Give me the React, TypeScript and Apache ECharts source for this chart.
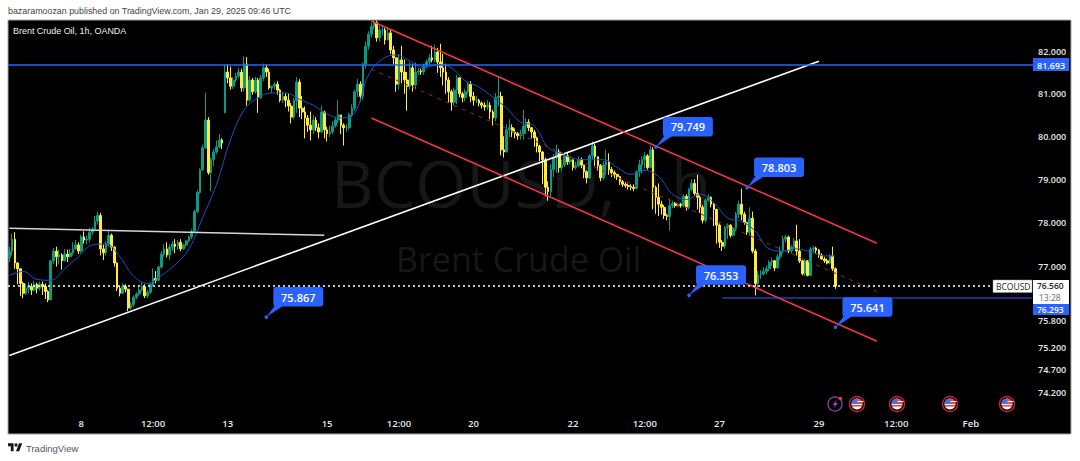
import React, { useEffect, useRef } from "react";
import * as echarts from "echarts";

const firstOpen = 77.2;
// Closing prices, 20 bars per row
const closes = [
  77.35,77.62,77.08,76.95,76.62,76.40,76.51,76.55,76.47,76.60,76.51,76.60,76.55,76.44,76.25,77.13,77.35,77.22,77.26,77.13,
  77.28,77.22,77.31,77.40,77.49,77.35,77.67,77.60,77.62,77.78,77.85,78.03,78.16,77.40,77.31,77.51,77.71,77.44,77.08,76.51,
  76.40,76.55,76.49,76.07,76.14,76.31,76.38,76.47,76.55,76.34,76.42,76.60,76.73,76.69,76.99,77.28,77.40,77.26,77.44,77.51,
  77.46,77.55,77.40,77.49,77.58,77.67,77.80,78.25,78.69,79.22,79.73,80.38,79.15,79.45,79.63,79.75,79.91,79.84,81.52,81.38,
  81.18,81.33,81.42,81.52,81.14,81.71,80.85,81.33,81.05,81.33,80.91,81.38,81.62,81.52,81.14,81.18,81.23,81.09,80.85,80.94,
  80.85,80.71,80.45,80.85,81.28,80.66,80.57,80.43,80.26,80.15,80.38,80.20,80.10,80.57,80.15,80.06,80.10,80.24,80.38,80.50,
  80.26,80.20,80.20,80.50,80.66,81.05,81.23,80.94,81.71,82.14,82.43,82.61,82.71,82.34,82.53,82.53,82.29,82.46,82.05,81.86,
  81.23,81.81,81.52,81.33,81.18,81.62,81.21,81.52,81.54,81.52,81.66,81.76,81.86,81.81,82.00,81.76,81.62,81.52,81.33,81.05,
  80.80,81.09,81.38,81.00,80.91,81.05,81.23,80.94,80.85,80.85,80.78,80.73,80.69,80.73,80.57,80.43,80.91,80.94,79.68,79.63,
  80.15,80.20,80.10,80.06,80.01,80.06,80.24,80.33,80.20,80.10,79.96,79.77,79.63,79.45,78.81,78.71,79.22,79.50,79.63,79.27,
  79.33,79.54,79.40,79.45,79.27,79.31,79.45,79.33,79.17,79.03,79.54,79.77,79.52,79.31,79.03,79.33,79.40,79.22,79.15,79.11,
  79.06,78.94,78.88,78.85,78.83,78.81,78.78,79.17,79.33,79.45,79.54,79.27,79.68,78.81,78.58,78.42,78.35,78.16,78.14,78.39,
  78.44,78.39,78.42,78.39,78.60,78.35,78.76,78.90,78.67,78.58,78.35,78.05,78.51,78.58,78.42,78.30,77.94,77.55,77.46,77.89,
  77.94,77.71,77.87,78.19,78.42,78.19,78.00,77.78,78.10,77.35,76.62,76.82,76.84,76.89,76.95,77.10,77.13,76.97,77.22,77.35,
  77.62,77.67,77.35,77.44,77.58,77.35,77.13,76.84,77.13,76.80,77.40,77.42,77.37,77.26,77.17,77.13,77.08,77.24,76.95,76.56,
];
const highs = [
  77.45,77.75,77.78,77.10,76.95,76.66,76.62,76.66,76.62,76.68,76.64,76.66,76.66,76.62,76.47,77.15,77.42,77.45,77.38,77.30,
  77.40,77.38,77.40,77.55,77.60,77.55,77.72,77.80,77.70,77.88,77.90,78.15,78.25,78.22,77.50,77.58,77.80,77.75,77.46,77.10,
  76.55,76.62,76.60,76.50,76.20,76.35,76.42,76.55,76.66,76.60,76.47,76.64,76.96,76.90,77.02,77.35,77.50,77.55,77.50,77.58,
  77.62,77.60,77.62,77.52,77.60,77.70,77.85,78.30,78.75,79.25,79.80,81.03,80.45,79.50,79.70,79.90,80.05,79.95,81.70,81.70,
  81.65,81.40,81.50,81.62,81.60,81.90,81.88,81.42,81.38,81.40,81.38,81.45,81.72,81.70,81.60,81.20,81.28,81.30,81.12,81.05,
  81.02,81.00,80.78,80.90,81.40,81.35,80.95,80.70,80.50,80.58,80.50,80.45,80.30,80.72,80.60,80.22,80.25,80.35,80.45,80.85,
  80.45,80.30,80.28,80.55,80.75,81.10,81.35,81.30,81.75,82.25,82.50,82.70,82.77,82.76,82.62,82.62,82.58,82.60,82.55,82.15,
  81.75,81.95,82.15,81.82,81.52,81.75,81.72,81.75,81.62,81.60,81.72,81.82,81.95,82.15,82.18,82.10,82.20,81.95,81.72,81.40,
  81.10,81.15,81.45,81.40,81.05,81.12,81.28,81.30,81.05,80.95,80.88,80.82,80.80,80.85,80.80,80.62,81.02,81.40,81.05,80.00,
  80.28,80.40,80.28,80.18,80.10,80.15,80.62,80.42,80.40,80.22,80.15,79.99,79.80,79.65,79.50,78.95,79.35,79.58,79.80,79.70,
  79.45,79.62,79.62,79.50,79.45,79.40,79.52,79.50,79.30,79.20,79.58,79.88,79.82,79.50,79.35,79.42,79.68,79.60,79.28,79.20,
  79.12,79.03,78.98,78.93,78.90,78.88,78.88,79.20,79.45,79.52,79.62,79.58,79.78,79.74,78.85,78.90,78.50,78.40,78.20,78.55,
  78.50,78.47,78.45,78.45,78.65,78.65,78.80,79.00,79.00,79.10,78.62,78.40,78.55,78.65,78.60,78.45,78.32,77.98,77.60,77.92,
  77.98,77.96,77.90,78.24,78.50,78.78,78.25,78.02,78.35,78.25,77.40,76.90,76.92,76.98,77.02,77.14,77.20,77.15,77.28,77.45,
  77.70,77.72,77.70,77.48,77.65,77.95,77.62,77.15,77.18,77.15,77.44,77.47,77.45,77.40,77.30,77.22,77.18,77.28,77.45,76.98,
];
const lows = [
  77.10,77.25,76.95,76.60,76.34,76.29,76.36,76.40,76.36,76.44,76.40,76.46,76.36,76.27,76.20,76.27,77.05,77.00,77.05,76.93,
  77.12,77.10,77.20,77.25,77.38,77.28,77.30,77.52,77.50,77.55,77.72,77.80,77.95,77.25,77.15,77.25,77.45,77.35,77.00,76.45,
  76.33,76.38,76.42,76.00,76.03,76.10,76.27,76.34,76.44,76.29,76.29,76.38,76.55,76.62,76.66,76.95,77.22,77.20,77.15,77.35,
  77.30,77.38,77.35,77.38,77.45,77.55,77.62,77.80,78.22,78.65,79.18,79.70,79.10,78.72,79.30,79.58,79.72,79.70,80.55,81.25,
  81.10,81.12,81.28,81.38,81.05,81.05,80.72,80.82,80.98,81.00,80.55,80.88,81.30,81.40,81.10,81.02,81.10,80.98,80.80,80.78,
  80.68,80.58,80.30,80.40,80.55,80.45,80.40,79.95,80.10,79.90,80.05,80.12,79.95,80.08,79.95,79.88,79.98,80.05,80.20,80.30,
  80.05,79.78,80.10,80.15,80.45,80.60,80.92,80.82,80.85,81.60,82.05,82.35,82.55,82.25,82.25,82.40,82.18,82.28,81.95,81.70,
  81.05,81.10,81.25,81.00,80.60,81.10,81.05,81.10,81.45,81.45,81.45,81.60,81.70,81.75,81.75,81.50,81.40,81.20,81.00,80.80,
  80.60,80.72,80.75,80.92,80.80,80.82,81.00,80.80,80.72,80.78,80.70,80.65,80.60,80.62,80.40,80.25,80.35,80.70,79.55,79.50,
  79.65,79.98,79.98,79.95,79.92,79.92,79.92,80.05,80.12,79.95,79.75,79.62,79.42,78.88,78.60,78.50,78.60,79.05,79.15,79.15,
  79.18,79.28,79.33,79.35,79.20,79.22,79.28,79.25,79.02,78.90,79.00,79.45,79.30,79.20,78.95,78.98,79.10,79.10,79.05,79.02,
  78.98,78.86,78.82,78.80,78.76,78.74,78.72,78.78,79.05,79.13,79.25,79.22,79.25,78.30,78.20,78.15,78.18,78.08,78.05,77.82,
  78.33,78.34,78.36,78.34,78.35,78.27,78.30,78.72,78.62,78.30,78.22,77.98,78.00,78.48,78.35,77.92,77.52,77.42,77.35,77.40,
  77.62,77.66,77.68,77.80,78.10,78.05,77.95,77.72,77.70,77.30,76.35,76.50,76.72,76.80,76.82,76.90,77.02,76.90,76.95,77.15,
  77.30,77.55,77.30,77.30,77.40,77.25,77.08,76.80,76.78,76.78,76.80,77.33,77.30,77.20,77.15,77.08,77.05,77.05,76.90,76.50,
];
// Bars that open away from the previous close (the weekend gap)
const gapOpens: Record<number, number> = { 78: 80.55 };

// Moving average read every fifth bar, with the last bar at the end
const maStep = 5;
const maValues = [
  76.80,76.89,76.71,76.69,76.95,77.22,77.49,77.51,77.22,76.78,76.62,76.80,77.04,77.40,78.12,78.88,79.91,80.62,80.91,81.02,
  81.02,80.87,80.73,80.52,80.43,80.55,81.45,81.83,81.93,81.78,81.62,81.69,81.62,81.31,81.16,80.92,80.66,80.33,80.24,79.73,
  79.59,79.47,79.45,79.45,79.27,79.11,79.20,79.06,78.65,78.53,78.65,78.46,78.10,78.03,77.80,77.40,77.35,77.40,77.33,77.24,
];
const maLast = 77.24;

const categoryCount = 371;
const xTickIndexes = [26, 52, 79, 115, 141, 168, 204, 230, 257, 293, 321, 348];
const xTickLabels = ["8", "12:00", "13", "15", "12:00", "20", "22", "12:00", "27", "29", "12:00", "Feb"];
const yTickValues = [82, 81, 80, 79, 78, 77, 75.8, 75.2, 74.7, 74.2];

const whiteTrend: [number, number][] = [[0, 75.02], [293, 81.78]];
const whiteFlat: [number, number][] = [[0, 77.87], [114, 77.71]];
const channelUpper: [number, number][] = [[131, 82.75], [314, 77.53]];
const channelMiddle: [number, number][] = [[131, 81.59], [314, 76.44]];
const channelLower: [number, number][] = [[131, 80.43], [314, 75.33]];
const supportLine: [number, number][] = [[258, 76.293], [370, 76.293]];
const resistance = 81.693;
const lastPrice = 76.56;
const callouts: [number, number][] = [[93, 75.867], [234, 79.749], [246, 76.353], [267, 78.803], [299, 75.641]];

const eventFlagX = [857, 897, 950, 1007];

const FONT = '"Open Sans", sans-serif';
const HEAD = '"Liberation Sans", sans-serif';
const UP = "#0b9a83";
const DOWN = "#ffeb3b";
const BLUE = "#2962ff";

echarts.graphic.registerShape(
  "tvlogo",
  echarts.graphic.extendPath("M14 22H7V11H0V4h14v18zM28 22h-8l7.5-18h8L28 22zM24 8a4 4 0 1 1-8 0 4 4 0 0 1 8 0z", {})
);

function flag(cx: number) {
  const cy = 404;
  return {
    type: "group",
    children: [
      { type: "circle", shape: { cx, cy, r: 7.5 }, style: { fill: "#000", stroke: "#d32030", lineWidth: 1.4 } },
      { type: "circle", shape: { cx, cy, r: 5.5 }, style: { fill: "#f4f4f4" } },
      { type: "sector", shape: { cx, cy, r: 5.5, r0: 0, startAngle: Math.PI, endAngle: Math.PI * 1.5 }, style: { fill: "#3f74e6" } },
      { type: "sector", shape: { cx, cy, r: 5.5, r0: 0, startAngle: Math.PI * 1.5, endAngle: Math.PI * 2 }, style: { fill: "#e05050" } },
      { type: "rect", shape: { x: cx + 0.5, y: cy - 3, width: 6, height: 1 }, style: { fill: "#f4f4f4" } },
      { type: "rect", shape: { x: cx - 5, y: cy + 1, width: 10, height: 1.6 }, style: { fill: "#e05050" } },
    ],
  };
}

function priceBox(y: number, h: number, fill: string, text: string, color: string, textY: number, size = 9) {
  return [
    { type: "rect", shape: { x: 1033, y, width: 36, height: h }, style: { fill } },
    { type: "text", x: 1037, y: textY, style: { text, fill: color, fontFamily: FONT, fontSize: size, fontWeight: 600, verticalAlign: "middle" } },
  ];
}

export default function App() {
  const ref = useRef<HTMLDivElement>(null);
  useEffect(() => {
    document.body.style.margin = "0";
    const chart = echarts.init(ref.current!, undefined, { renderer: "svg" });

    const categories = Array.from({ length: categoryCount }, () => "");
    xTickIndexes.forEach((i, k) => { categories[i] = xTickLabels[k]; });

    const candles = closes.map((c, i) => {
      const o = gapOpens[i] ?? (i === 0 ? firstOpen : closes[i - 1]);
      return [o, c, Math.min(lows[i], o, c), Math.max(highs[i], o, c)];
    });
    const ma: [number, number][] = maValues.map((v, i) => [i * maStep, v]);
    ma.push([closes.length - 1, maLast]);

    const lineSeries = (data: [number, number][], color: string, width: number, type: any = "solid") => ({
      type: "line", data, symbol: "none", silent: true, z: 4,
      lineStyle: { color, width, type },
    });

    chart.setOption({
      animation: false,
      backgroundColor: "#ffffff",
      grid: { left: 8, top: 20, width: 1025, height: 395, containLabel: false },
      xAxis: {
        type: "category", data: categories, boundaryGap: true,
        axisLine: { show: false }, axisTick: { show: false }, splitLine: { show: false },
        axisLabel: {
          interval: (_: number, v: string) => v !== "",
          color: "#e6e8ee", fontSize: 9.5, fontFamily: FONT, fontWeight: 600, margin: 3, hideOverlap: false,
        },
      },
      yAxis: {
        type: "log", logBase: 10, position: "right", min: 73.72, max: 82.773, scale: true,
        axisLine: { show: false }, axisTick: { show: false }, splitLine: { show: false }, minorTick: { show: false },
        axisLabel: {
          customValues: yTickValues, formatter: (v: number) => Number(v).toFixed(3),
          color: "#e6e8ee", fontSize: 9, fontFamily: FONT, fontWeight: 600, margin: 5, align: "left",
        },
      },
      series: [
        {
          type: "candlestick", data: candles, barWidth: 2.2, z: 3, silent: true,
          itemStyle: { color: UP, color0: DOWN, borderColor: UP, borderColor0: DOWN, borderWidth: 1 },
        },
        { ...lineSeries(ma, "#1f4fc8", 1), connectNulls: true, smooth: 0.4 },
        {
          type: "line", data: [], silent: true, z: 5,
          markLine: {
            silent: true, symbol: "none", label: { show: false }, animation: false,
            data: [
              { yAxis: resistance, lineStyle: { color: BLUE, width: 1.5, type: "solid" } },
              { yAxis: lastPrice, lineStyle: { color: "#ffffff", width: 1.5, type: [2, 3] } },
            ],
          },
        },
        lineSeries(whiteTrend, "#ffffff", 1.6),
        lineSeries(whiteFlat, "#d6d6d6", 1.6),
        lineSeries(channelUpper, "#f23645", 1.6),
        lineSeries(channelMiddle, "#9c2430", 1, [4, 5]),
        lineSeries(channelLower, "#f23645", 1.6),
        lineSeries(supportLine, BLUE, 1.2),
        {
          type: "custom", data: callouts, clip: false, silent: true, z: 6,
          encode: { x: 0, y: 1 },
          renderItem: (_: any, api: any) => {
            const [x, y] = api.coord([api.value(0), api.value(1)]);
            return {
              type: "group",
              children: [
                { type: "circle", shape: { cx: x, cy: y, r: 1.8 }, style: { fill: BLUE } },
                { type: "polygon", shape: { points: [[x, y], [x + 9, y - 12], [x + 18, y - 12]] }, style: { fill: BLUE } },
                { type: "rect", shape: { x: x + 7, y: y - 30, width: 50, height: 19.5, r: 3 }, style: { fill: BLUE } },
                {
                  type: "text",
                  style: {
                    text: Number(api.value(1)).toFixed(3), x: x + 32, y: y - 20, fill: "#fff",
                    fontFamily: FONT, fontSize: 11, fontWeight: 600, align: "center", verticalAlign: "middle",
                  },
                },
              ],
            };
          },
        },
      ],
      graphic: {
        elements: [
          { type: "rect", z: -2, silent: true, shape: { x: 8, y: 20, width: 1063, height: 414 }, style: { fill: "#000", stroke: "#a8a8a8", lineWidth: 1 } },
          { type: "text", z: -1, x: 8, y: 11, style: { text: "bazaramoozan published on TradingView.com, Jan 29, 2025 09:46 UTC", fill: "#444", fontFamily: HEAD, fontSize: 8.9, verticalAlign: "middle" } },
          { type: "text", z: -1, x: 331, y: 182, style: { text: "BCOUSD, 1h", fill: "#171717", fontFamily: FONT, fontSize: 66, verticalAlign: "middle" } },
          { type: "text", z: -1, x: 396, y: 259, style: { text: "Brent Crude Oil", fill: "#171717", fontFamily: FONT, fontSize: 34, verticalAlign: "middle" } },
          { type: "text", z: 10, x: 13, y: 31, style: { text: "Brent Crude Oil, 1h, OANDA", fill: "#f0f0f0", fontFamily: HEAD, fontSize: 8.95, verticalAlign: "middle" } },
          { type: "tvlogo", z: 10, x: 8, y: 441.5, scaleX: 0.4, scaleY: 0.44, style: { fill: "#131722" } },
          { type: "text", z: 10, x: 26, y: 448, style: { text: "TradingView", fill: "#555", fontFamily: HEAD, fontSize: 9.5, verticalAlign: "middle" } },
          ...priceBox(58, 13, BLUE, "81.693", "#fff", 65).map((e) => ({ ...e, z: 10 })),
          { type: "rect", z: 10, shape: { x: 993, y: 280, width: 39, height: 12.5 }, style: { fill: "#fff", stroke: "#999", lineWidth: 0.5 } },
          { type: "text", z: 11, x: 996, y: 286.5, style: { text: "BCOUSD", fill: "#222", fontFamily: FONT, fontSize: 8.5, verticalAlign: "middle" } },
          ...priceBox(280, 24, "#ffffff", "76.560", "#222", 285.5, 8.5).map((e) => ({ ...e, z: 10 })),
          { type: "text", z: 11, x: 1039, y: 297.5, style: { text: "13:28", fill: "#666", fontFamily: FONT, fontSize: 8.5, verticalAlign: "middle" } },
          ...priceBox(304, 11, BLUE, "76.293", "#fff", 309.3, 8.5).map((e) => ({ ...e, z: 10 })),
          ...eventFlagX.map((cx) => ({ ...flag(cx), z: 10 })),
          { type: "circle", z: 10, shape: { cx: 835, cy: 404, r: 7 }, style: { fill: "#000", stroke: "#7b3fa0", lineWidth: 1.4 } },
          { type: "polygon", z: 10, shape: { points: [[837, 399], [832.5, 405], [835, 405], [833, 409], [838, 403], [835.5, 403]] }, style: { fill: "#8e4fb5" } },
          { type: "circle", z: 10, shape: { cx: 840.5, cy: 398.5, r: 1.8 }, style: { fill: "#f23645" } },
        ],
      },
    });
    return () => chart.dispose();
  }, []);
  return <div ref={ref} style={{ position: "absolute", left: 0, top: 0, width: 1080, height: 461 }} />;
}
